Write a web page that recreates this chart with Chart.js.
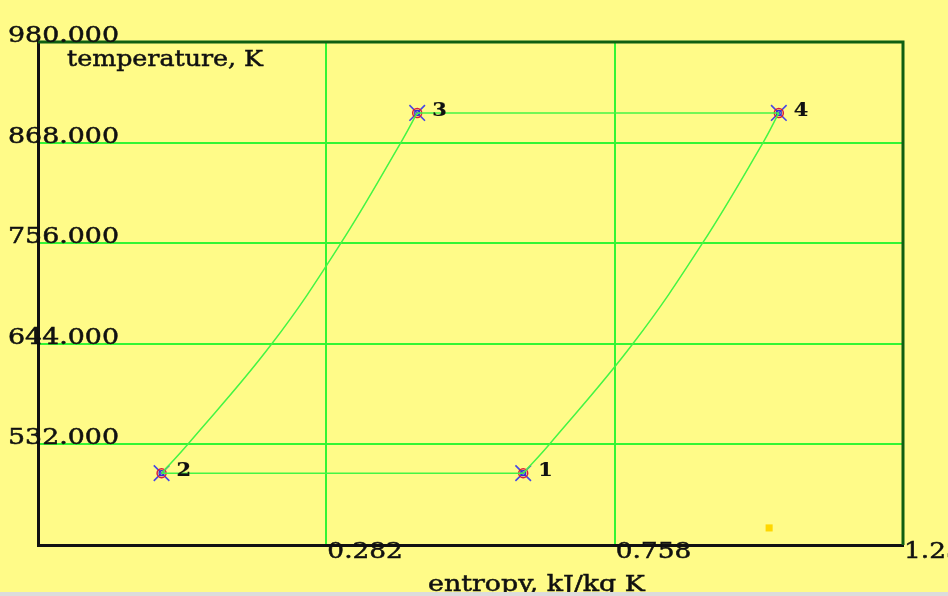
<!DOCTYPE html>
<html>
<head>
<meta charset="utf-8">
<script src="https://cdn.jsdelivr.net/npm/chart.js@4/dist/chart.umd.min.js"></script>
<style>
  html, body { margin: 0; padding: 0; background: #dcdcdc; }
  #wrap { width: 948px; height: 592px; background: #fffb88; }
</style>
</head>
<body>
<div id="wrap"><canvas id="tsChart" width="948" height="592"></canvas></div>
<script>
// state points of the cycle
const stateNames = ["1", "2", "3", "4"];
const stateS = [0.607, 0.010, 0.432, 1.029];
const stateT = [500, 500, 901, 901];

const curveAS = [0.010, 0.053, 0.192, 0.306, 0.405, 0.432];
const curveAT = [500, 532, 644, 756, 868, 901];

// curve 1 -> 4
const curveBS = [0.607, 0.650, 0.788, 0.903, 1.003, 1.029];
const curveBT = [500, 532, 644, 756, 868, 901];

// small yellow square near the bottom right
const squareS = [1.013];
const squareT = [439];

// axes
const xTicks = [0.282, 0.758, 1.234];
const xTickLabels = ["0.282", "0.758", "1.234"];
const yTicks = [532, 644, 756, 868, 980];
const yTickLabels = ["532.000", "644.000", "756.000", "868.000", "980.000"];
const xMin = -0.194, xMax = 1.234;
const yMin = 420, yMax = 980;

const FONT = "'DejaVu Serif', serif";
const LINE_GREEN = "#44f544";
const GRID_GREEN = "#33f533";

const toPoints = (xs, ys) => xs.map((x, i) => ({ x: x, y: ys[i] }));

// horizontal lines 2-1 and 3-4 come from the state arrays
const lowLine = [1, 0].map((i) => ({ x: stateS[i], y: stateT[i] }));
const highLine = [2, 3].map((i) => ({ x: stateS[i], y: stateT[i] }));

// text a bit wider than the font, like the original
const wideText = (ctx, str, x, y, sx) => {
  ctx.save();
  ctx.translate(x, y);
  ctx.scale(sx, 1);
  ctx.fillText(str, 0, 0);
  ctx.strokeText(str, 0, 0);
  ctx.restore();
};

// draws the tick labels, axis names, state numbers and the top/right frame
const decorations = {
  id: "decorations",
  afterDraw(chart) {
    const ctx = chart.ctx;
    const a = chart.chartArea;
    const xs = chart.scales.x, ys = chart.scales.y;
    ctx.save();

    // top and right frame
    ctx.strokeStyle = "#0f5f12";
    ctx.lineWidth = 3;
    ctx.beginPath();
    ctx.moveTo(a.left, a.top);
    ctx.lineTo(a.right, a.top);
    ctx.lineTo(a.right, a.bottom);
    ctx.stroke();

    ctx.fillStyle = "#111";
    ctx.strokeStyle = "#111";
    ctx.lineWidth = 0.5;
    ctx.textBaseline = "alphabetic";
    ctx.textAlign = "left";
    ctx.font = "22px " + FONT;

    // y tick labels
    yTicks.forEach((v, i) => {
      wideText(ctx, yTickLabels[i], 8, ys.getPixelForValue(v), 1.22);
    });
    // x tick labels
    xTicks.forEach((v, i) => {
      wideText(ctx, xTickLabels[i], xs.getPixelForValue(v) + 1, a.bottom + 13, 1.2);
    });

    // axis names
    wideText(ctx, "temperature, K", a.left + 29, a.top + 24, 1.15);
    wideText(ctx, "entropy, kJ/kg K", a.left + 390, a.bottom + 46, 1.22);

    // state numbers
    ctx.font = "bold 19px " + FONT;
    ctx.lineWidth = 0.2;
    stateNames.forEach((n, i) => {
      const px = xs.getPixelForValue(stateS[i]);
      const py = ys.getPixelForValue(stateT[i]);
      wideText(ctx, n, px + 15, py + 3, 1.1);
    });
    ctx.restore();
  },
};

const ctx = document.getElementById("tsChart");
const chart = new Chart(ctx, {
  type: "scatter",
  data: {
    datasets: [
      {
        data: toPoints(curveAS, curveAT),
        showLine: true,
        borderColor: LINE_GREEN,
        borderWidth: 1.5,
        pointRadius: 0,
        tension: 0.4,
      },
      {
        data: toPoints(curveBS, curveBT),
        showLine: true,
        borderColor: LINE_GREEN,
        borderWidth: 1.5,
        pointRadius: 0,
        tension: 0.4,
      },
      {
        data: lowLine,
        showLine: true,
        borderColor: LINE_GREEN,
        borderWidth: 1.5,
        pointRadius: 0,
      },
      {
        data: highLine,
        showLine: true,
        borderColor: LINE_GREEN,
        borderWidth: 1.5,
        pointRadius: 0,
      },
      {
        // red rings
        data: toPoints(stateS, stateT),
        pointStyle: "circle",
        pointRadius: 4.5,
        pointBorderColor: "#d81e3c",
        pointBorderWidth: 1.5,
        pointBackgroundColor: "rgba(0,0,0,0)",
      },
      {
        // blue inner rings
        data: toPoints(stateS, stateT),
        pointStyle: "circle",
        pointRadius: 2.5,
        pointBorderColor: "#3030d0",
        pointBorderWidth: 1.2,
        pointBackgroundColor: "rgba(0,0,0,0)",
      },
      {
        // blue crosses
        data: toPoints(stateS, stateT),
        pointStyle: "crossRot",
        pointRadius: 11,
        pointBorderColor: "#4646e6",
        pointBorderWidth: 1.6,
      },
      {
        data: toPoints(squareS, squareT),
        pointStyle: "rect",
        pointRadius: 5,
        pointBorderWidth: 0,
        pointBackgroundColor: "#ffd700",
      },
    ],
  },
  options: {
    responsive: false,
    animation: false,
    events: [],
    layout: { padding: { left: 38, top: 42, right: 45, bottom: 47 } },
    plugins: { legend: { display: false }, tooltip: { enabled: false } },
    scales: {
      x: {
        type: "linear",
        min: xMin,
        max: xMax,
        afterBuildTicks: (s) => {
          s.ticks = xTicks.slice(0, 2).map((v) => ({ value: v }));
        },
        ticks: { display: false },
        grid: { color: GRID_GREEN, lineWidth: 2, drawTicks: false },
        border: { display: true, color: "#111", width: 3 },
      },
      y: {
        type: "linear",
        min: yMin,
        max: yMax,
        afterBuildTicks: (s) => {
          s.ticks = yTicks.slice(0, 4).map((v) => ({ value: v }));
        },
        ticks: { display: false },
        grid: { color: GRID_GREEN, lineWidth: 2, drawTicks: false },
        border: { display: true, color: "#111", width: 3 },
      },
    },
  },
  plugins: [decorations],
});
</script>
</body>
</html>
